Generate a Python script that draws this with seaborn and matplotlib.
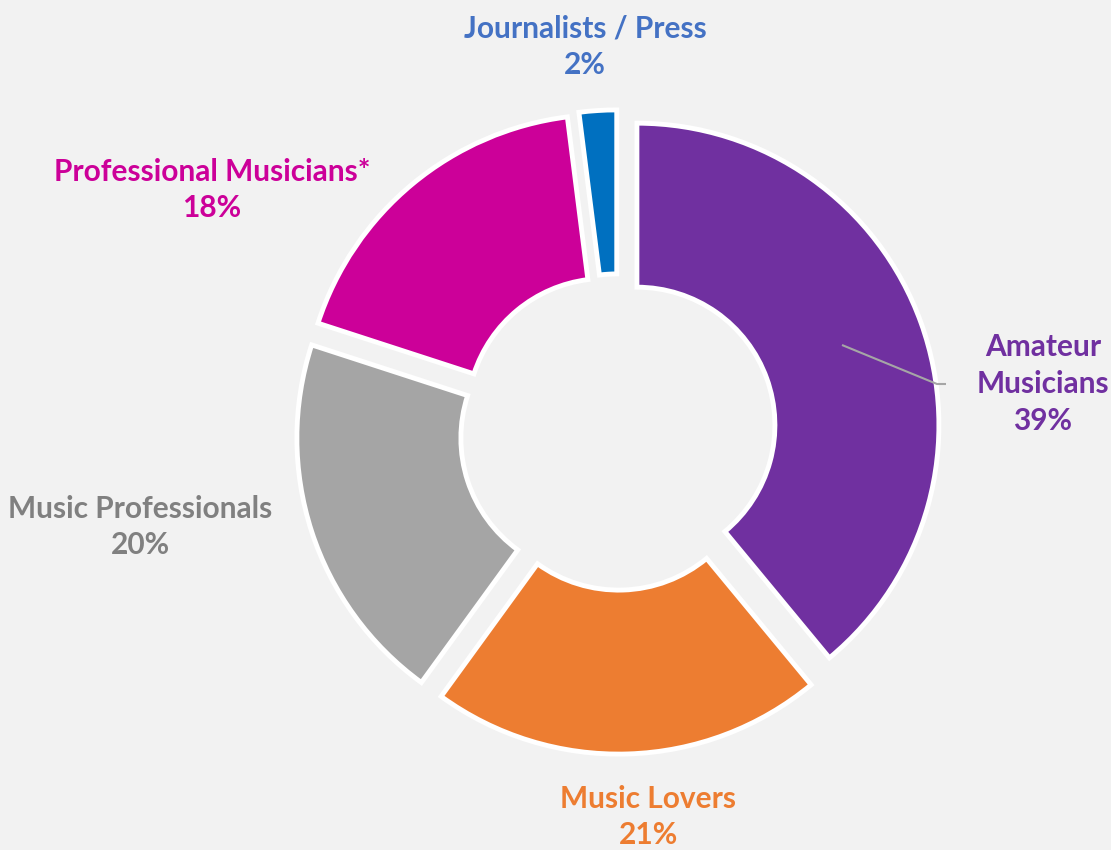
import matplotlib
matplotlib.use("Agg")
import matplotlib.pyplot as plt
import seaborn as sns

sns.set_theme(style="white")
plt.rcParams['font.family'] = ['Lato', 'DejaVu Sans']

# data
groups = ["Amateur\nMusicians", "Music Lovers", "Music Professionals",
          "Professional Musicians*", "Journalists / Press"]
shares = [39, 21, 20, 18, 2]

slice_colors = ["#7030A0", "#ED7D31", "#A5A5A5", "#CC0099", "#0070C0"]
label_colors = ["#7030A0", "#ED7D31", "#808080", "#CC0099", "#4472C4"]

# figure in pixel-ish units: 1 unit = 300 px
W, H, S = 1111, 850, 300.0
fig = plt.figure(figsize=(W / 100, H / 100), dpi=100, facecolor="#F2F2F2")
ax = fig.add_axes([0, 0, 1, 1])
ax.set_facecolor("#F2F2F2")
ax.axis("off")

def px(x, y):
    return x / S, (H - y) / S

center = px(618, 432)
ax.pie(shares, colors=sns.color_palette(slice_colors), startangle=90,
       counterclock=False, radius=302 / S, center=center,
       explode=[0.067] * len(shares),
       wedgeprops=dict(width=164 / S, edgecolor="white", linewidth=3.5))
ax.set_xlim(0, W / S)
ax.set_ylim(0, H / S)
ax.set_aspect("equal")

# label positions (pixel centres)
label_pos = [(1043, 384), (648, 817), (140, 527), (212, 190), (585, 47)]
for g, v, c, (lx, ly) in zip(groups, shares, label_colors, label_pos):
    ax.text(*px(lx, ly), f"{g}\n{v}%", color=c, fontsize=21.5, fontweight="bold",
            ha="center", va="center", linespacing=1.38)

# leader line for Amateur Musicians
ax.plot([842 / S, 937 / S, 946 / S],
        [(H - 345) / S, (H - 384) / S, (H - 384) / S],
        color="#A6A6A6", lw=1.5, solid_capstyle="butt")

fig.savefig("out.png", dpi=100, facecolor="#F2F2F2")
